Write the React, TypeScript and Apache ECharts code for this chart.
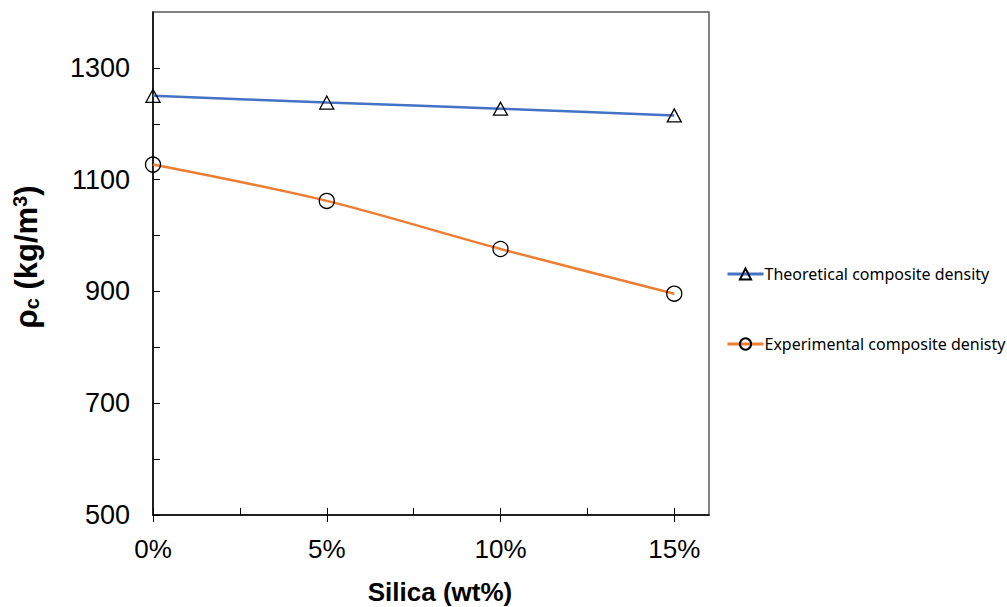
import React, { useEffect, useRef } from "react";
import * as echarts from "echarts";

const silica = [0, 5, 10, 15];
const theoretical = [1250, 1238, 1227, 1215];
const experimental = [1127, 1062, 976, 896];
const xLabelValues = [0, 5, 10, 15];
const xTickValues = [0, 2.5, 5, 7.5, 10, 12.5, 15];
const yLabelValues = [500, 700, 900, 1100, 1300];
const yTickValues = [500, 600, 700, 800, 900, 1000, 1100, 1200, 1300];
const seriesNames = ["Theoretical composite density", "Experimental composite denisty"];

export default function App() {
  const ref = useRef<HTMLDivElement>(null);
  useEffect(() => {
    if (!ref.current) return;
    const chart = echarts.init(ref.current, null, { renderer: "svg" });
    const tickFont = "Liberation Sans, Arial, sans-serif";
    chart.setOption({
      animation: false,
      backgroundColor: "#ffffff",
      grid: {
        left: 153,
        right: 298,
        top: 12,
        bottom: 92,
        show: true,
        borderColor: "#595959",
        borderWidth: 1.5,
        containLabel: false,
      },
      xAxis: [
        {
          type: "value",
          min: 0,
          max: 16,
          interval: 2.5,
          axisLine: { show: true, onZero: false, lineStyle: { color: "#000", width: 1.5 } },
          axisTick: { show: true, inside: true, length: 7, customValues: xTickValues, lineStyle: { color: "#000", width: 1 } },
          splitLine: { show: false },
          axisLabel: {
            customValues: xLabelValues,
            formatter: (v: number) => `${v}%`,
            fontFamily: tickFont,
            fontSize: 26,
            color: "#000",
            margin: 21,
          },
        },
        {
          type: "value",
          min: 0,
          max: 16,
          interval: 5,
          position: "bottom",
          axisLine: { show: false },
          axisTick: { show: true, inside: false, length: 7, customValues: xLabelValues, lineStyle: { color: "#000", width: 1 } },
          splitLine: { show: false },
          axisLabel: { show: false },
        },
      ],
      yAxis: {
        type: "value",
        min: 500,
        max: 1400,
        interval: 100,
        axisLine: { show: true, onZero: false, lineStyle: { color: "#000", width: 1.5 } },
        axisTick: { show: true, inside: true, length: 7, customValues: yTickValues, lineStyle: { color: "#000", width: 1 } },
        splitLine: { show: false },
        axisLabel: {
          customValues: yLabelValues,
          formatter: (v: number) => String(v),
          fontFamily: tickFont,
          fontSize: 27,
          color: "#000",
          margin: 23,
        },
      },
      legend: {
        orient: "vertical",
        left: 721,
        top: 259,
        itemGap: 50,
        itemWidth: 36,
        itemHeight: 14,
        lineStyle: { width: 3 },
        data: seriesNames,
        textStyle: { fontFamily: "Noto Sans, sans-serif", fontSize: 16, lineHeight: 20, color: "#000", padding: [0, 0, 0, -4] },
      },
      graphic: [
        {
          type: "text",
          x: 10,
          y: 257,
          rotation: Math.PI / 2,
          style: {
            text: "{b|ρ}{s|c}{b| (kg/m}{p|3}{b|)}",
            align: "center",
            verticalAlign: "top",
            rich: {
              b: { fontFamily: tickFont, fontSize: 31, fontWeight: "bold", fill: "#000" },
              s: { fontFamily: tickFont, fontSize: 20, fontWeight: "bold", fill: "#000", verticalAlign: "bottom", padding: [10, 0, 0, 0] },
              p: { fontFamily: tickFont, fontSize: 20, fontWeight: "bold", fill: "#000", padding: [0, 0, 12, 0] },
            },
          },
        },
        {
          type: "text",
          x: 440,
          y: 579,
          style: {
            text: "Silica (wt%)",
            align: "center",
            verticalAlign: "top",
            fontFamily: tickFont,
            fontSize: 26,
            fontWeight: "bold",
            fill: "#000",
          },
        },
      ],
      series: [
        {
          name: seriesNames[0],
          type: "line",
          data: silica.map((x, i) => [x, theoretical[i]]),
          smooth: 0.25,
          symbol: "triangle",
          symbolSize: [14, 13],
          lineStyle: { color: "#4472C4", width: 2.5 },
          itemStyle: { color: "rgba(255,255,255,0)", borderColor: "#000", borderWidth: 1.3 },
          z: 3,
        },
        {
          name: seriesNames[1],
          type: "line",
          data: silica.map((x, i) => [x, experimental[i]]),
          smooth: 0.3,
          symbol: "circle",
          symbolSize: 15,
          lineStyle: { color: "#ED7D31", width: 2.5 },
          itemStyle: { color: "rgba(255,255,255,0)", borderColor: "#000", borderWidth: 1.3 },
          z: 3,
        },
      ],
    });
    return () => chart.dispose();
  }, []);
  return <div ref={ref} style={{ position: "absolute", left: 0, top: 0, width: 1007, height: 607 }} />;
}
